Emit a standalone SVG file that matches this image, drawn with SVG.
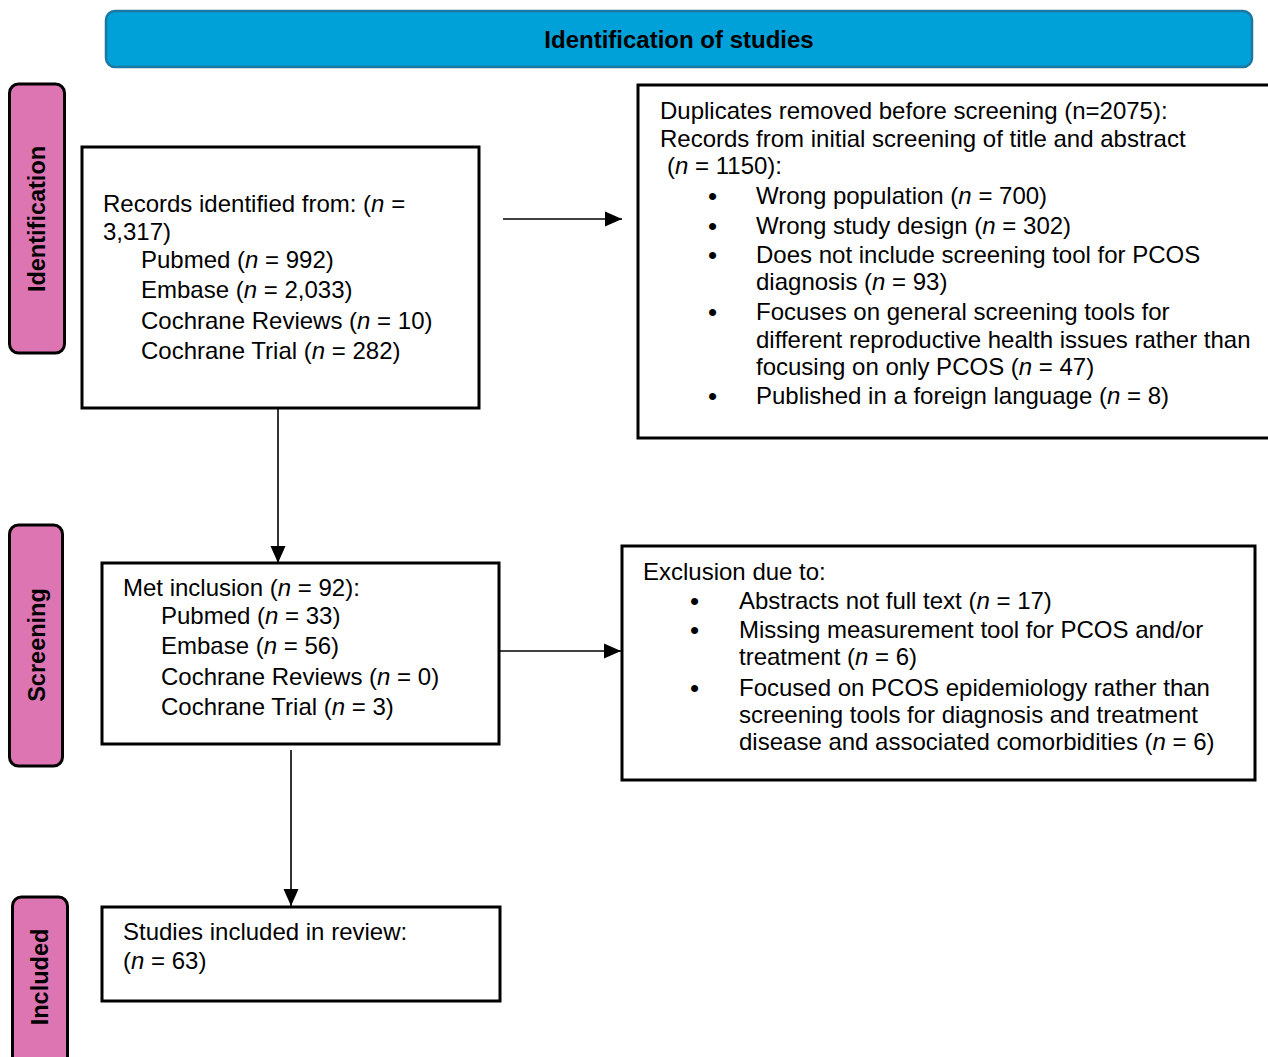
<svg xmlns="http://www.w3.org/2000/svg" width="1268" height="1057" viewBox="0 0 1268 1057">
<style>
text{font-family:"Liberation Sans",Arial,sans-serif;font-size:24px;fill:#000}
.box{fill:#fff;stroke:#000;stroke-width:3}
.side{fill:#dd75b3;stroke:#000;stroke-width:3}
.sidet{font-weight:bold;font-size:23.5px;text-anchor:middle}
.hdr{fill:#00a0d8;stroke:#1c78a2;stroke-width:2.5}
.bul{font-size:26px}
.conn{stroke:#000;stroke-width:1.6;fill:none;marker-end:url(#ah)}
</style>
<defs>
<marker id="ah" viewBox="0 0 10 10" refX="10" refY="5" markerWidth="10" markerHeight="10" markerUnits="userSpaceOnUse" orient="auto" overflow="visible">
<path d="M-7,-2.5 L10,5 L-7,12.5 Z" fill="#000"/>
</marker>
</defs>
<rect width="1268" height="1057" fill="#fff"/>
<g id="header">
<rect class="hdr" x="106" y="11" width="1146" height="56" rx="9"/>
<text x="679" y="48" text-anchor="middle" font-weight="bold">Identification of studies</text>
</g>
<g id="side-identification">
<rect class="side" x="9.5" y="84" width="55" height="269" rx="9"/>
<text class="sidet" transform="translate(45,219) rotate(-90)">Identification</text>
</g>
<g id="side-screening">
<rect class="side" x="9.5" y="525" width="53" height="241" rx="9"/>
<text class="sidet" transform="translate(45,645) rotate(-90)">Screening</text>
</g>
<g id="side-included">
<rect class="side" x="12.5" y="897" width="55" height="170" rx="9"/>
<text class="sidet" transform="translate(48,977) rotate(-90)">Included</text>
</g>
<g id="records">
<rect class="box" x="82" y="147" width="397" height="261"/>
<text x="103" y="212">Records identified from: (<tspan font-style="italic">n</tspan> =</text>
<text x="103" y="240">3,317)</text>
<text x="141" y="268">Pubmed (<tspan font-style="italic">n</tspan> = 992)</text>
<text x="141" y="298">Embase (<tspan font-style="italic">n</tspan> = 2,033)</text>
<text x="141" y="329">Cochrane Reviews (<tspan font-style="italic">n</tspan> = 10)</text>
<text x="141" y="359">Cochrane Trial (<tspan font-style="italic">n</tspan> = 282)</text>
</g>
<g id="duplicates">
<path class="box" d="M1270,85 H638 V438 H1270"/>
<text x="660" y="119">Duplicates removed before screening (n=2075):</text>
<text x="660" y="147">Records from initial screening of title and abstract</text>
<text x="667" y="174">(<tspan font-style="italic">n</tspan> = 1150):</text>
<text class="bul" x="708" y="205">•</text><text x="756" y="204">Wrong population (<tspan font-style="italic">n</tspan> = 700)</text>
<text class="bul" x="708" y="235">•</text><text x="756" y="234">Wrong study design (<tspan font-style="italic">n</tspan> = 302)</text>
<text class="bul" x="708" y="264">•</text><text x="756" y="263">Does not include screening tool for PCOS</text>
<text x="756" y="290">diagnosis (<tspan font-style="italic">n</tspan> = 93)</text>
<text class="bul" x="708" y="321">•</text><text x="756" y="320">Focuses on general screening tools for</text>
<text x="756" y="348">different reproductive health issues rather than</text>
<text x="756" y="375">focusing on only PCOS (<tspan font-style="italic">n</tspan> = 47)</text>
<text class="bul" x="708" y="405">•</text><text x="756" y="404">Published in a foreign language (<tspan font-style="italic">n</tspan> = 8)</text>
</g>
<g id="met-inclusion">
<rect class="box" x="102" y="563" width="397" height="181"/>
<text x="123" y="596">Met inclusion (<tspan font-style="italic">n</tspan> = 92):</text>
<text x="161" y="624">Pubmed (<tspan font-style="italic">n</tspan> = 33)</text>
<text x="161" y="654">Embase (<tspan font-style="italic">n</tspan> = 56)</text>
<text x="161" y="685">Cochrane Reviews (<tspan font-style="italic">n</tspan> = 0)</text>
<text x="161" y="715">Cochrane Trial (<tspan font-style="italic">n</tspan> = 3)</text>
</g>
<g id="exclusion">
<rect class="box" x="622" y="546" width="633" height="234"/>
<text x="643" y="580">Exclusion due to:</text>
<text class="bul" x="690" y="610">•</text><text x="739" y="609">Abstracts not full text (<tspan font-style="italic">n</tspan> = 17)</text>
<text class="bul" x="690" y="639">•</text><text x="739" y="638">Missing measurement tool for PCOS and/or</text>
<text x="739" y="665">treatment (<tspan font-style="italic">n</tspan> = 6)</text>
<text class="bul" x="690" y="697">•</text><text x="739" y="696">Focused on PCOS epidemiology rather than</text>
<text x="739" y="723">screening tools for diagnosis and treatment</text>
<text x="739" y="750">disease and associated comorbidities (<tspan font-style="italic">n</tspan> = 6)</text>
</g>
<g id="included">
<rect class="box" x="102" y="907" width="398" height="94"/>
<text x="123" y="940">Studies included in review:</text>
<text x="123" y="969">(<tspan font-style="italic">n</tspan> = 63)</text>
</g>
<g id="connectors">
<line class="conn" x1="503" y1="219" x2="622" y2="219"/>
<line class="conn" x1="278" y1="408" x2="278" y2="563"/>
<line class="conn" x1="499" y1="651" x2="621" y2="651"/>
<line class="conn" x1="291" y1="750" x2="291" y2="906"/>
</g>
</svg>
